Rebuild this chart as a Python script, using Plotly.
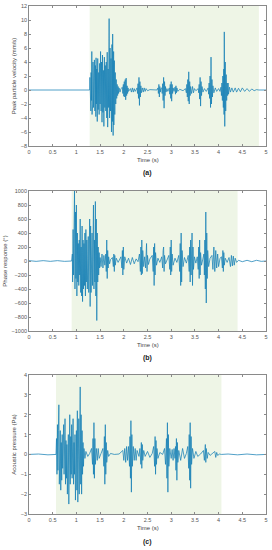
import plotly.graph_objects as go

# ---------------- Data ----------------
# Panel (a): peak particle velocity (mm/s)
t_a = [0, 1.28, 1.285, 1.29, 1.30, 1.305, 1.31, 1.32, 1.325, 1.33, 1.34, 1.345, 1.35, 1.36, 1.37, 1.375,
       1.38, 1.39, 1.40, 1.41, 1.415, 1.42, 1.43, 1.44, 1.45, 1.46, 1.47, 1.48, 1.49, 1.50, 1.51, 1.52,
       1.53, 1.54, 1.55, 1.56, 1.57, 1.58, 1.59, 1.60, 1.61, 1.62, 1.63, 1.64, 1.65, 1.66, 1.67, 1.68,
       1.69, 1.70, 1.71, 1.72, 1.73, 1.74, 1.75, 1.76, 1.765, 1.775, 1.785, 1.79, 1.80, 1.81, 1.82, 1.83,
       1.84, 1.85, 1.86, 1.87, 1.88, 1.89, 1.90, 1.92, 1.94,
       1.97, 1.98, 1.99, 2.00, 2.01, 2.02, 2.03, 2.04, 2.05, 2.06, 2.07, 2.08, 2.09, 2.10,
       2.14, 2.16, 2.18, 2.20, 2.22, 2.24, 2.26,
       2.28, 2.29, 2.30, 2.31, 2.32, 2.33, 2.34, 2.35, 2.36, 2.37, 2.39, 2.41, 2.43, 2.45, 2.47, 2.50, 2.55, 2.70,
       2.72, 2.73, 2.74, 2.75, 2.76, 2.77, 2.78,
       2.80, 2.81, 2.82, 2.83, 2.84, 2.85, 2.86, 2.87, 2.88, 2.89, 2.91, 2.93,
       2.96, 2.97, 2.98, 2.99, 3.00, 3.01, 3.02, 3.03, 3.04, 3.06,
       3.08, 3.09, 3.10, 3.11, 3.12, 3.14, 3.18, 3.25,
       3.30, 3.32, 3.33, 3.34, 3.35, 3.36, 3.37, 3.38, 3.39, 3.40, 3.41, 3.43, 3.45, 3.47, 3.49, 3.52,
       3.57, 3.58, 3.59, 3.60, 3.61, 3.62, 3.63, 3.64, 3.65, 3.67, 3.70, 3.74,
       3.78, 3.79, 3.80, 3.81, 3.82, 3.83, 3.84, 3.85, 3.86, 3.87, 3.88, 3.90, 3.93, 3.96, 4.00, 4.03,
       4.05, 4.06, 4.07, 4.08, 4.09, 4.10, 4.11, 4.115, 4.12, 4.13, 4.14, 4.15, 4.16, 4.17, 4.18, 4.19,
       4.20, 4.21, 4.23, 4.25,
       4.28, 4.31, 4.35, 4.38, 4.42, 4.46, 4.50, 4.55, 4.60, 4.65, 4.70, 4.75, 4.80, 4.85, 5.0]
v_a = [0, 0, 1.8, -2.5, 1.2, -3.0, 2.5, -1.5, 5.5, -3.5, 3.0, -2.0, 4.0, -2.5, 2.0, -1.8,
       4.3, -3.0, 3.5, -3.8, 4.6, -2.0, 3.0, -4.5, 4.5, -2.8, 2.5, -3.5, 3.8, -2.0, 5.5, -3.0,
       4.0, -4.6, 5.0, -3.2, 2.8, -5.2, 4.7, -2.5, 3.5, -3.0, 4.0, -4.0, 5.4, -5.3, 3.0, -2.5,
       10.2, -4.0, 6.0, -3.0, 4.5, -6.0, 6.5, -4.5, 8.0, -6.5, 5.5, -5.0, 4.2, -3.5, 2.5, -2.0,
       1.5, -1.2, 0.8, -0.8, 0.5, -0.5, 0.3, -0.3, 0.2,
       0.4, -0.5, 0.8, -0.9, 1.2, -1.0, 1.5, -1.4, 1.7, -0.8, 0.6, -0.5, 0.3, -0.2,
       0.2, -0.3, 0.3, -0.3, 0.2, -0.2, 0.1,
       0.3, -0.5, 0.9, -1.2, 1.8, -2.2, 1.2, -1.0, 0.6, -0.4, 0.3, -0.3, 0.3, -0.2, 0.2, -0.1, 0.05, 0,
       0.3, -0.5, 0.8, -1.0, 0.5, -0.3, 0.2,
       0.3, -0.5, 0.9, -1.5, 1.8, -2.6, 1.2, -0.8, 0.5, -0.3, 0.2, -0.2,
       0.3, -0.6, 0.8, -1.2, 1.2, -1.6, 0.8, -0.5, 0.3, -0.2,
       0.4, -0.6, 0.6, -0.4, 0.3, -0.2, 0.1, -0.1,
       0.2, -0.4, 0.8, -1.0, 1.5, -1.6, 2.6, -2.0, 1.2, -0.8, 0.5, -0.5, 0.5, -0.4, 0.2, -0.1,
       0.2, -0.4, 0.8, -1.3, 1.8, -2.3, 1.2, -0.8, 0.5, -0.3, 0.2, -0.2,
       0.3, -0.6, 1.0, -1.2, 2.0, -2.5, 4.7, -2.0, 1.5, -1.0, 0.6, -0.4, 0.3, -0.2, 0.2, -0.2,
       0.4, -0.8, 1.0, -1.5, 2.0, -2.5, 3.0, -3.5, 8.3, -5.2, 4.0, -3.0, 2.2, -1.5, 1.0, -0.8,
       1.0, -0.6, 0.4, -0.3,
       0.3, -0.3, 0.3, -0.3, 0.25, -0.25, 0.3, -0.2, 0.2, -0.2, 0.15, -0.1, 0.05, 0, 0]

# Panel (b): phase response (deg)
t_b = [0, 0.15, 0.3, 0.45, 0.6, 0.75, 0.9,
       0.915, 0.92, 0.93, 0.94, 0.95, 0.96, 0.97, 0.98, 0.99, 1.00, 1.01, 1.02, 1.03, 1.04, 1.05, 1.06,
       1.07, 1.08, 1.09, 1.10, 1.11, 1.12, 1.13, 1.14, 1.15, 1.16, 1.17, 1.18, 1.19, 1.20, 1.21, 1.22,
       1.23, 1.24, 1.25, 1.26, 1.27, 1.28, 1.29, 1.30, 1.31, 1.32, 1.33, 1.34, 1.35, 1.36, 1.37, 1.38,
       1.39, 1.40, 1.41, 1.42, 1.43, 1.44, 1.45, 1.46, 1.47, 1.48, 1.49, 1.50,
       1.52, 1.54, 1.56, 1.58, 1.60, 1.62, 1.63, 1.64, 1.65, 1.66, 1.67, 1.68, 1.70, 1.72,
       1.76, 1.78, 1.79, 1.80, 1.81, 1.82, 1.84, 1.88,
       1.94, 1.96, 1.97, 1.98, 1.99, 2.00, 2.02, 2.06,
       2.10, 2.14, 2.18, 2.22, 2.26, 2.30,
       2.33, 2.35, 2.36, 2.37, 2.38, 2.39, 2.40, 2.42, 2.44, 2.46, 2.47, 2.48, 2.49, 2.50, 2.52, 2.55,
       2.60, 2.62, 2.63, 2.64, 2.65, 2.66, 2.67, 2.69, 2.72, 2.76,
       2.80, 2.82, 2.83, 2.84, 2.85, 2.86, 2.88, 2.92,
       2.95, 2.97, 2.98, 2.99, 3.00, 3.01, 3.02, 3.04, 3.08, 3.12,
       3.16, 3.18, 3.19, 3.20, 3.21, 3.22, 3.23, 3.25, 3.28, 3.32,
       3.36, 3.38, 3.39, 3.40, 3.41, 3.42, 3.43, 3.44, 3.45, 3.46, 3.47, 3.49, 3.52,
       3.55, 3.57, 3.58, 3.59, 3.60, 3.61, 3.62, 3.64, 3.67,
       3.69, 3.70, 3.71, 3.72, 3.73, 3.74, 3.75, 3.76, 3.77, 3.79, 3.82,
       3.86, 3.88, 3.90, 3.92, 3.94, 3.96, 3.98, 4.00, 4.03,
       4.06, 4.08, 4.09, 4.10, 4.11, 4.12, 4.14, 4.18,
       4.22, 4.25, 4.27, 4.29, 4.31, 4.33, 4.35, 4.38, 4.42, 4.5, 4.6, 4.7, 4.8, 4.9, 5.0]
v_b = [5, -5, 5, -5, 5, -5, 0,
       100, -300, 450, -200, 300, 1000, -400, 700, -250, 800, -500, 400, -300, 250, -350, 300,
       -200, 600, -450, 200, -500, 500, -580, 300, -400, 250, -350, 400, -500, 450, -300, 300,
       -400, 200, 350, -450, 250, 600, -650, 500, -450, 300, 400, -350, 200, 800, -400, 300,
       -300, 850, -500, 600, -850, 400, -300, 200, -200, 120, -100, 50,
       -80, 100, -100, 80, -60, 100, -150, 300, -250, 150, -100, 60, -40, 20,
       50, -80, 100, -150, 80, -60, 40, -20,
       60, -100, 150, -200, 200, -120, 60, -30,
       40, -50, 50, -40, 30, -10,
       100, -150, 200, -200, 300, -180, 150, -80, 60, -100, 150, 250, -150, 80, -50, 30,
       80, -150, 200, -350, 250, -200, 120, -60, 40, -20,
       60, -100, 150, 200, -150, 80, -40, 20,
       80, -120, 200, -200, 300, -150, 100, -60, 40, -20,
       80, -150, 250, -350, 400, -300, 150, -80, 50, -30,
       80, -150, 200, -300, 300, -200, 350, 400, -350, 200, -120, 60, -30,
       60, -120, 200, -250, 300, -200, 120, -60, 30,
       100, -200, 300, -400, 700, -600, 400, -250, 150, -80, 40,
       80, -120, 200, -150, 150, -100, 100, -80, 40,
       60, -100, 150, -150, 120, -60, 40, -20,
       50, -80, 80, -70, 70, -60, 40, -20, 10, -10, 10, -10, 10, -5, 0]

# Panel (c): acoustic pressure (Pa)
t_c = [0, 0.2, 0.4, 0.57,
       0.58, 0.59, 0.60, 0.61, 0.62, 0.63, 0.64, 0.65, 0.66, 0.67, 0.68, 0.69, 0.70, 0.71, 0.72, 0.73,
       0.74, 0.75, 0.76, 0.77, 0.78, 0.79, 0.80, 0.81, 0.82, 0.83, 0.84, 0.85, 0.86, 0.87, 0.88, 0.89,
       0.90, 0.91, 0.92, 0.93, 0.94, 0.95, 0.96, 0.97, 0.98, 0.99, 1.00, 1.01, 1.02, 1.03, 1.04, 1.05,
       1.06, 1.07, 1.08, 1.09, 1.10, 1.11, 1.12, 1.13, 1.14, 1.15, 1.16, 1.18, 1.20, 1.24, 1.28,
       1.32, 1.34, 1.35, 1.36, 1.37, 1.38, 1.39, 1.40, 1.42, 1.44, 1.46, 1.48, 1.52,
       1.56, 1.58, 1.59, 1.60, 1.61, 1.62, 1.63, 1.64, 1.66, 1.68, 1.72, 1.80, 1.90,
       1.98, 2.00, 2.02, 2.04, 2.06, 2.08, 2.10, 2.12, 2.13, 2.14, 2.15, 2.16, 2.17, 2.18, 2.20, 2.22,
       2.24, 2.26, 2.28, 2.32,
       2.34, 2.36, 2.37, 2.38, 2.39, 2.40, 2.42, 2.45, 2.50, 2.55, 2.60,
       2.63, 2.65, 2.66, 2.67, 2.68, 2.69, 2.70, 2.72, 2.76, 2.82,
       2.86, 2.88, 2.90, 2.91, 2.92, 2.93, 2.94, 2.95, 2.97, 3.00, 3.02, 3.04, 3.06, 3.08,
       3.09, 3.10, 3.11, 3.12, 3.13, 3.14, 3.16, 3.20, 3.24, 3.28, 3.32,
       3.35, 3.37, 3.38, 3.39, 3.40, 3.41, 3.42, 3.43, 3.45, 3.48, 3.52, 3.56, 3.62,
       3.68, 3.70, 3.72, 3.73, 3.74, 3.76, 3.78, 3.82, 3.88, 3.92, 3.94, 3.96, 3.98, 4.02,
       4.06, 4.2, 4.4, 4.6, 4.8, 5.0]
v_c = [0, 0.02, -0.02, 0,
       0.8, -1.0, 1.5, -0.8, 1.2, 2.5, -1.5, 0.8, 1.2, -1.8, 0.6, -1.3, 1.0, -0.7, 0.8, 1.5,
       -1.0, 0.6, 1.8, -1.5, 0.7, -1.2, 0.5, -2.0, 0.8, 1.0, -2.5, 1.2, 2.0, -1.5, 0.9, -1.0,
       1.5, -1.2, 0.8, 1.8, -1.5, 0.6, -1.0, 1.0, -2.3, 0.8, 1.2, -1.8, 2.2, -2.4, 1.0, 1.8,
       -2.0, 1.2, 3.4, -1.5, 2.0, -2.0, 1.2, -1.0, 0.6, -0.6, 0.3, -0.2, 0.15, -0.1, 0.05,
       0.3, -0.5, 0.8, -1.0, 1.6, -1.2, 0.8, -0.5, 0.3, -0.3, 0.3, -0.2, 0.05,
       0.3, -0.6, 0.9, -1.5, 1.5, -1.0, 0.6, -0.4, 0.2, -0.1, 0.05, 0, 0.02,
       0.2, -0.3, 0.3, -0.4, 0.4, -0.3, 0.4, -0.6, 0.9, -1.2, 1.7, -1.9, 1.0, -0.6, 0.4, -0.3,
       0.3, -0.3, 0.2, -0.1,
       0.3, -0.5, 0.6, -0.7, 0.5, -0.3, 0.2, -0.1, 0.15, -0.15, 0.05,
       0.4, -0.6, 0.9, -1.0, 0.7, -0.5, 0.3, -0.2, 0.1, 0,
       0.3, -0.5, 0.8, -1.2, 1.6, -1.9, 1.0, -0.6, 0.3, -0.2, 0.25, -0.3, 0.3, -0.2,
       0.4, -0.8, 0.8, -1.3, 0.6, -0.4, 0.2, -0.3, 0.3, -0.2, 0.05,
       0.4, -0.7, 1.0, -1.3, 1.6, -1.7, 0.9, -0.5, 0.3, -0.2, 0.15, -0.1, 0.02,
       0.2, -0.3, 0.5, -0.4, 0.3, -0.2, 0.1, -0.05, 0.05, 0.15, -0.15, 0.1, -0.05, 0.02,
       0, 0.02, -0.02, 0.02, -0.02, 0]

shade_a = [1.28, 4.85]
shade_b = [0.90, 4.40]
shade_c = [0.57, 4.06]

ylab_a = "Peak particle velocity (mm/s)"
ylab_b = "Phase response (°)"
ylab_c = "Acoustic pressure (Pa)"
captions = ["(a)", "(b)", "(c)"]

# ---------------- Figure ----------------
W, H = 272, 550
line_col = "#1780b5"
shade_col = "#eef5e6"
frame_col = "#8a8a8a"
FONT = "Liberation Sans, Arial, sans-serif"
tick_font = dict(family=FONT, size=5.5, color="#555555")

def py(px):
    return 1 - px / H

panels = [
    dict(t=t_a, v=v_a, shade=shade_a, yr=[-8, 12], dt=2, top=6, bot=146, ylab=ylab_a, tl=160, cap=173),
    dict(t=t_b, v=v_b, shade=shade_b, yr=[-1000, 1000], dt=200, top=191, bot=331, ylab=ylab_b, tl=345, cap=358),
    dict(t=t_c, v=v_c, shade=shade_c, yr=[-3, 4], dt=1, top=375, bot=514, ylab=ylab_c, tl=528, cap=542),
]

fig = go.Figure()
shapes = []
annotations = []
xdom = [29 / W, 266 / W]
for i, p in enumerate(panels):
    n = "" if i == 0 else str(i + 1)
    fig.add_trace(go.Scatter(x=p["t"], y=p["v"], mode="lines",
                             line=dict(color=line_col, width=0.75),
                             xaxis="x" + n, yaxis="y" + n, showlegend=False,
                             hoverinfo="skip"))
    ax = dict(domain=xdom, range=[0, 5], dtick=0.5, tick0=0, showgrid=False, zeroline=False,
              showline=True, linecolor=frame_col, linewidth=0.8, mirror="ticks",
              ticks="inside", ticklen=2, tickcolor=frame_col, tickfont=tick_font,
              anchor="y" + n, automargin=False)
    ay = dict(domain=[py(p["bot"]), py(p["top"])], range=p["yr"], dtick=p["dt"],
              showgrid=False, zeroline=False, showline=True, linecolor=frame_col,
              linewidth=0.8, mirror="ticks", ticks="inside", ticklen=2, tickcolor=frame_col,
              tickfont=tick_font, anchor="x" + n, automargin=False,
              title=dict(text=p["ylab"], font=dict(family=FONT, size=6, color="#444444"),
                         standoff=3))
    fig.update_layout(**{"xaxis" + n: ax, "yaxis" + n: ay})
    shapes.append(dict(type="rect", xref="x" + n, yref="y" + n + " domain",
                       x0=p["shade"][0], x1=p["shade"][1], y0=0, y1=1,
                       fillcolor=shade_col, line=dict(width=0), layer="below"))
    annotations.append(dict(text="Time (s)", xref="paper", yref="paper",
                            x=(xdom[0] + xdom[1]) / 2, y=py(p["tl"]), showarrow=False,
                            font=dict(family=FONT, size=6, color="#444444"), yanchor="middle"))
    annotations.append(dict(text="<b>" + captions[i] + "</b>", xref="paper", yref="paper",
                            x=(xdom[0] + xdom[1]) / 2, y=py(p["cap"]), showarrow=False,
                            font=dict(family=FONT, size=7, color="#222222"), yanchor="middle"))

fig.update_layout(width=W, height=H, margin=dict(l=0, r=0, t=0, b=0),
                  paper_bgcolor="white", plot_bgcolor="white",
                  shapes=shapes, annotations=annotations)

fig.write_html("out.html", config={"displayModeBar": False},
               post_script="document.body.style.margin='0';document.body.style.overflow='hidden';")
